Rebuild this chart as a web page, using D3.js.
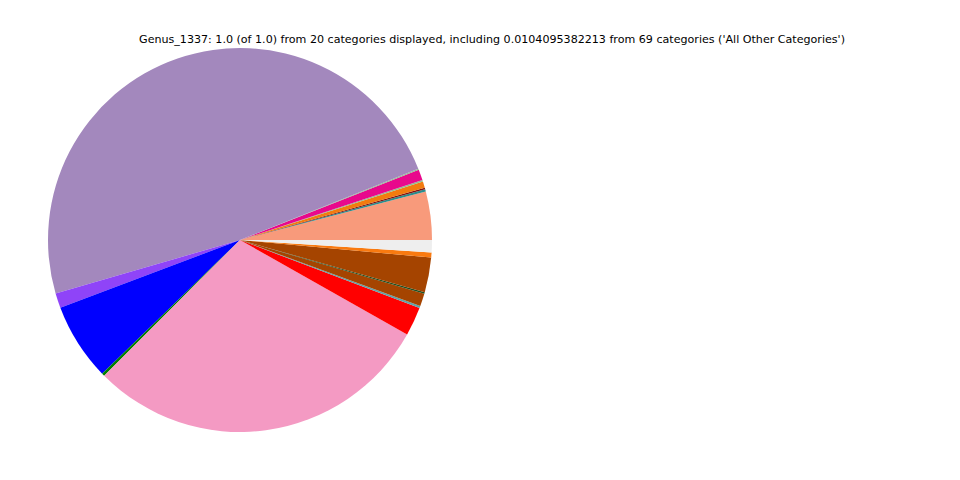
<!DOCTYPE html>
<html><head><meta charset="utf-8">
<script src="https://cdn.jsdelivr.net/npm/d3@7"></script>
<style>body{margin:0;background:#fff}</style>
</head><body>
<svg id="chart" width="960" height="480"></svg>
<script>
const categories = ["Salmon","Teal A","Dark red","Orange A","Light green A","Magenta","Light green B","Purple","Violet","Blue","Green","Pink","Red","Teal B","Brown A","Dark green","Brown B","Orange B","All Other Categories"];
const values = [0.0406,0.0019,0.0013,0.0054,0.0013,0.0090,0.0010,0.4843,0.0125,0.0651,0.0024,0.2931,0.0242,0.0019,0.0106,0.0014,0.0292,0.0042,0.0104095382213];
const colors = ["#f89a7b","#2a8c8c","#7f1010","#f27b0f","#8fbf8f","#e8088c","#8fbf8f","#a388bd","#8f44f8","#0000ff","#008000","#f49ac3","#ff0000","#5fa3a8","#a54400","#1f4f1f","#a54400","#f97a10","#eeeeee"];
const titleText = "Genus_1337: 1.0 (of 1.0) from 20 categories displayed, including 0.0104095382213 from 69 categories ('All Other Categories')";

const svg = d3.select("#chart");
const cx = 240, cy = 240, r = 192;
const pie = d3.pie().sort(null).value(d => d.v)
  .startAngle(Math.PI/2).endAngle(Math.PI/2 - 2*Math.PI);
const data = values.map((v,i)=>({v, c: colors[i], name: categories[i]}));
const arc = d3.arc().innerRadius(0).outerRadius(r);
svg.append("g").attr("transform",`translate(${cx},${cy})`)
  .selectAll("path").data(pie(data)).join("path")
  .attr("d", arc).attr("fill", d => d.data.c);
svg.append("text").attr("x",492).attr("y",43).attr("text-anchor","middle")
  .attr("font-family","DejaVu Sans").attr("font-size",11.1).text(titleText);
</script>
</body></html>
